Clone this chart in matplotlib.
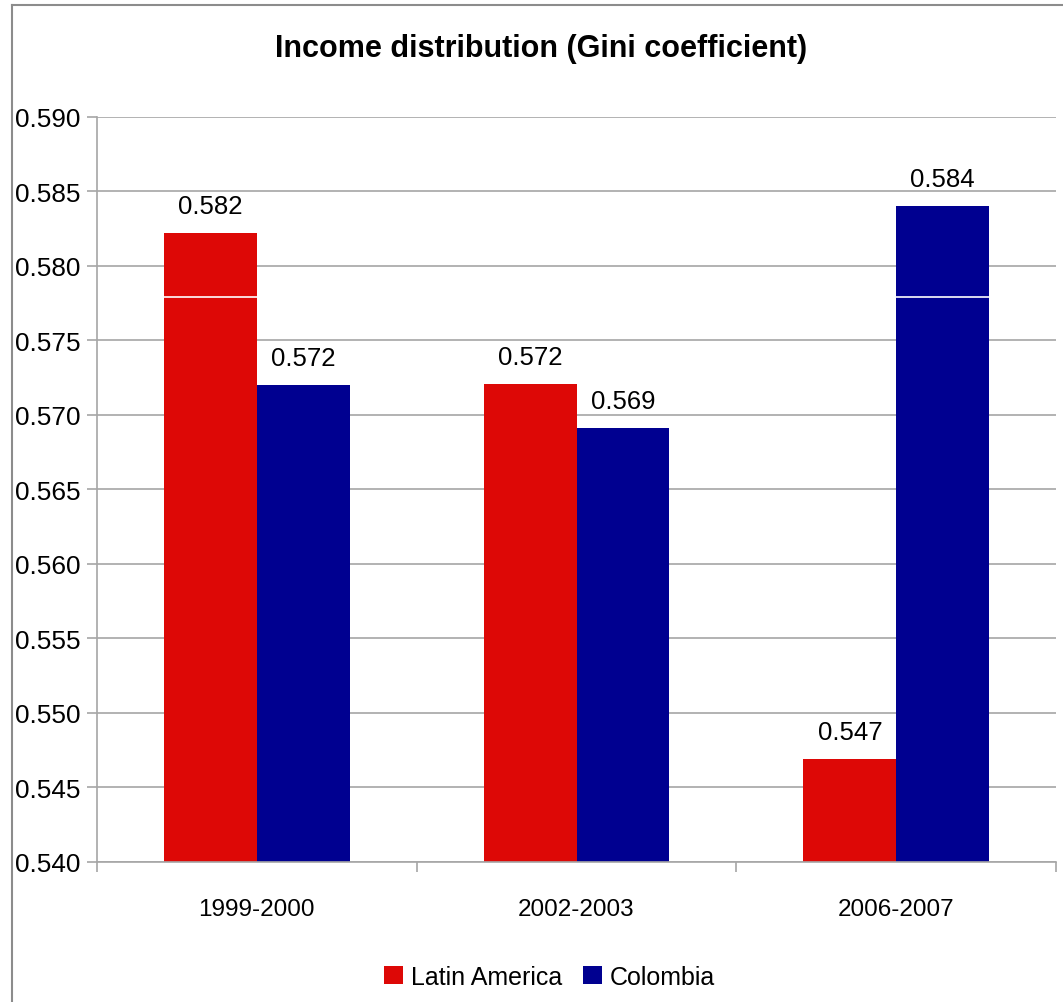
import matplotlib.pyplot as plt
import numpy as np
from matplotlib.lines import Line2D

plt.rcParams['font.family'] = ['Liberation Sans', 'DejaVu Sans']

periods = ['1999-2000', '2002-2003', '2006-2007']
latin_america = [0.5822, 0.5721, 0.5469]
colombia = [0.5720, 0.5691, 0.5840]
la_labels = ['0.582', '0.572', '0.547']
co_labels = ['0.572', '0.569', '0.584']
yticks = [0.540, 0.545, 0.550, 0.555, 0.560, 0.565, 0.570, 0.575, 0.580, 0.585, 0.590]

red = '#DD0806'
blue = '#000090'
grey = '#A6A6A6'

fig = plt.figure(figsize=(10.63, 10.03), dpi=100)
ax = fig.add_axes([0.0913, 0.1396, 0.9021, 0.7428])

x = np.arange(len(periods))
w = 0.29
ax.bar(x - w / 2, latin_america, w, color=red, label='Latin America', zorder=3)
ax.bar(x + w / 2, colombia, w, color=blue, label='Colombia', zorder=3)
# thin white streak across the tall bars
ax.axhline(0.5779, color='white', lw=1.2, zorder=4)

for xi, v, t in zip(x - w / 2, latin_america, la_labels):
    ax.annotate(t, (xi, v), xytext=(0, 15), textcoords='offset pixels',
                ha='center', va='bottom', fontsize=18.5)
for xi, v, t in zip(x + w / 2, colombia, co_labels):
    ax.annotate(t, (xi, v), xytext=(0, 15), textcoords='offset pixels',
                ha='center', va='bottom', fontsize=18.5)

ax.set_ylim(0.540, 0.590)
ax.set_xlim(-0.5, 2.5)
ax.set_yticks(yticks)
ax.set_yticklabels([f'{t:.3f}' for t in yticks], fontsize=18.8)
ax.set_xticks(x)
ax.set_xticklabels(periods, fontsize=17.5)
ax.set_xticks([-0.5, 0.5, 1.5, 2.5], minor=True)
ax.tick_params(axis='x', which='major', length=0, pad=26)
ax.tick_params(axis='x', which='minor', length=7, color=grey, width=1.2)
ax.tick_params(axis='y', length=7, color=grey, width=1.2, pad=5)
ax.grid(axis='y', color=grey, lw=1.2, zorder=0)
for s in ['top', 'right']:
    ax.spines[s].set_visible(False)
for s in ['left', 'bottom']:
    ax.spines[s].set_color(grey)
    ax.spines[s].set_linewidth(1.2)
    ax.spines[s].set_zorder(5)

fig.suptitle('Income distribution (Gini coefficient)', fontsize=22,
             fontweight='bold', x=0.509, y=0.951, va='center')

ax.legend(loc='center', bbox_to_anchor=(0.517, 1 - 978 / 1003), bbox_transform=fig.transFigure,
          ncol=2, frameon=False, fontsize=18, handlelength=0.75, handleheight=0.75,
          handletextpad=0.3, columnspacing=0.85)

# outer chart frame
fig.add_artist(Line2D([12 / 1063, 12 / 1063], [0, 1 - 6 / 1003], color='#8C8C8C', lw=1.5,
                      transform=fig.transFigure))
fig.add_artist(Line2D([12 / 1063, 1], [1 - 6 / 1003, 1 - 6 / 1003], color='#8C8C8C', lw=1.5,
                      transform=fig.transFigure))

fig.savefig('out.png', dpi=100, facecolor='white')
